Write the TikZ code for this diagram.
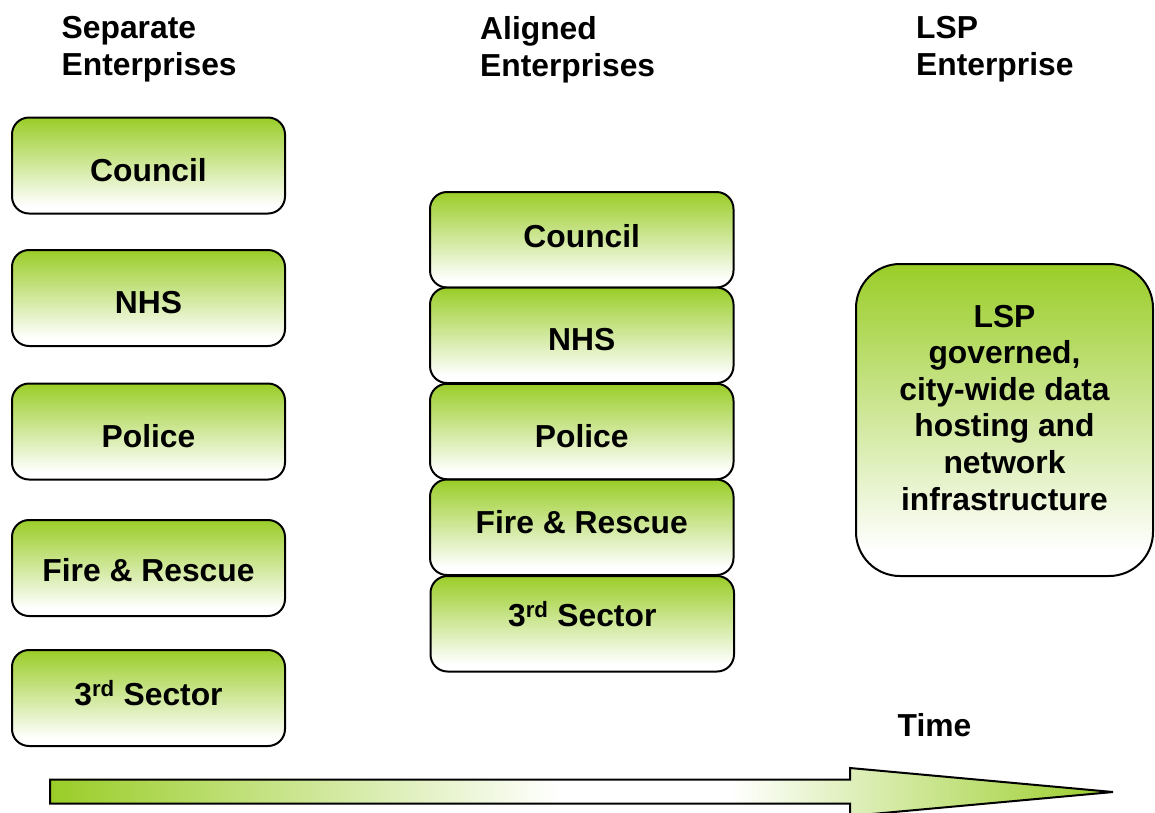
\documentclass[tikz,border=0pt]{standalone}
\usepackage{fontspec}
\setmainfont{Liberation Sans}

\definecolor{lsgreen}{RGB}{154,205,40}

% green at the top, fading to white near the bottom
\pgfdeclareverticalshading{boxfade}{100bp}{color(0bp)=(white); color(25bp)=(white); color(29bp)=(white); color(75bp)=(lsgreen); color(100bp)=(lsgreen)}
% green at both ends of the time arrow, white in between
\pgfdeclarehorizontalshading{timefade}{100bp}{color(0bp)=(lsgreen); color(25bp)=(lsgreen); color(49bp)=(white); color(57bp)=(white); color(75bp)=(lsgreen); color(100bp)=(lsgreen)}

\tikzset{
  bigtext/.style={font=\fontsize{31.8}{36.6}\selectfont\bfseries},
  heading/.style={bigtext, anchor=north west, inner sep=0pt, align=left},
  orgbox/.style={bigtext, draw=black, line width=2pt, rounded corners=17pt,
    shading=boxfade, inner sep=0pt, align=center},
  leftbox/.style={orgbox, minimum width=273pt, minimum height=96pt},
  midbox/.style={orgbox, minimum width=303.5pt, minimum height=95.5pt},
  capsat/.style 2 args={text height=#1, text depth=#2},
}

\begin{document}
\begin{tikzpicture}[x=1pt, y=-1pt]
  \clip (0,0) rectangle (1155,812);
  \useasboundingbox (0,0) rectangle (1155,812);

  % column headings
  \node[heading] (hsep) at (61.5,16.5) {Separate\\Enterprises};
  \node[heading] (hali) at (480,16.5) {Aligned\\Enterprises};
  \node[heading] (hlsp) at (916,16.5) {LSP\\Enterprise};

  % separate enterprises
  \node[leftbox, capsat={32pt}{0pt}] (sCouncil) at (148.5,165.5) {Council};
  \node[leftbox, capsat={30pt}{0pt}] (sNHS)     at (148.5,298)   {NHS};
  \node[leftbox, capsat={31pt}{0pt}] (sPolice)  at (148.5,431.5) {Police};
  \node[leftbox, capsat={26pt}{0pt}] (sFire)    at (148.5,568)   {Fire \& Rescue};
  \node[leftbox, capsat={22pt}{7.5pt}] (sThird) at (148.5,698)   {3\textsuperscript{rd} Sector};

  % aligned enterprises
  \node[midbox, capsat={22pt}{7pt}]  (aCouncil) at (581.75,239.75) {Council};
  \node[midbox, capsat={31pt}{0pt}]  (aNHS)     at (581.75,335.25) {NHS};
  \node[midbox, capsat={32pt}{0pt}]  (aPolice)  at (581.75,431.5)  {Police};
  \node[midbox, capsat={22pt}{9pt}]  (aFire)    at (581.75,527.25) {Fire \& Rescue};
  \node[midbox, capsat={22pt}{17pt}] (aThird)   at (582.25,623.75) {3\textsuperscript{rd} Sector};

  % LSP enterprise
  \node[orgbox, rounded corners=44pt, minimum width=297pt, minimum height=312pt,
        text height=198pt, text depth=18pt] (lsp) at (1004.5,420)
        {LSP\\governed,\\city-wide data\\hosting and\\network\\infrastructure};

  % time arrow
  \node[heading] (time) at (897.5,713) {Time};
  \draw[line width=2pt, shading=timefade, line join=miter]
    (50,779.5) -- (850,779.5) -- (850,768) -- (1113,792)
    -- (850,816) -- (850,803.5) -- (50,803.5) -- cycle;
\end{tikzpicture}
\end{document}
